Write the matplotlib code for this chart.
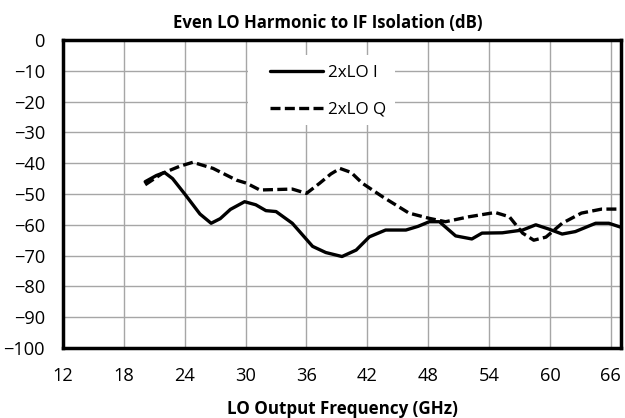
import matplotlib
matplotlib.use("Agg")
import matplotlib.pyplot as plt
from matplotlib.patches import Rectangle

plt.rcParams["font.family"] = ["Open Sans", "DejaVu Sans"]

# 2xLO I (solid)
freq_i = [20.1, 21.2, 22.0, 22.8, 24.0, 25.5, 26.6, 27.5, 28.5, 29.9, 31.0, 32.0, 33.0,
          34.6, 35.8, 36.6, 37.9, 39.5, 40.9, 42.2, 43.8, 45.8, 47.0, 48.1, 49.1, 50.7,
          52.3, 53.3, 55.3, 57.3, 58.6, 59.9, 61.2, 62.5, 64.5, 65.8, 67.0]
iso_i = [-46.0, -44.0, -43.0, -45.0, -50.0, -56.5, -59.5, -58.0, -55.0, -52.5, -53.5, -55.4, -55.7,
         -59.5, -64.0, -67.0, -69.0, -70.3, -68.2, -63.9, -61.7, -61.7, -60.5, -59.0, -59.0, -63.6,
         -64.6, -62.7, -62.6, -61.7, -60.0, -61.4, -63.0, -62.2, -59.5, -59.5, -60.8]

# 2xLO Q (dashed)
freq_q = [20.1, 21.8, 23.5, 24.8, 26.8, 29.1, 30.1, 31.4, 34.6, 36.0, 37.3, 38.4, 39.3,
          40.4, 41.5, 43.5, 46.1, 48.1, 49.7, 52.0, 54.6, 56.0, 57.3, 58.4, 59.6, 61.2,
          63.1, 65.1, 66.8]
iso_q = [-47.0, -43.3, -41.0, -39.7, -41.7, -45.5, -46.5, -48.7, -48.4, -49.8, -46.5, -43.5, -41.7,
         -43.0, -46.5, -50.9, -56.2, -57.9, -59.0, -57.4, -56.0, -57.4, -62.7, -65.0, -64.0, -59.5,
         -56.2, -54.9, -54.9]

xticks = [12, 18, 24, 30, 36, 42, 48, 54, 60, 66]
yticks = list(range(-100, 1, 10))

W, H = 625, 418
fig = plt.figure(figsize=(W / 100, H / 100), dpi=100)
ax = fig.add_axes([63 / W, 1 - 348 / H, 558 / W, 308 / H])
r = fig.canvas.get_renderer()


def fit(txt, target):
    # scale a text so it takes the same width in pixels as in the reference
    w = txt.get_window_extent(r).width
    txt.set_fontsize(txt.get_fontsize() * target / w)
    return txt.get_fontsize()


ax.plot(freq_i, iso_i, color="black", lw=2.4, solid_joinstyle="round",
        solid_capstyle="round", label="2xLO I", zorder=3)
ax.plot(freq_q, iso_q, color="black", lw=2.4, ls=(0, (3, 1.3)), label="2xLO Q", zorder=3)

ax.set_xlim(12, 67)
ax.set_ylim(-100, 0)
ax.set_xticks(xticks)
ax.set_yticks(yticks)
ax.grid(True, color="#a6a6a6", lw=1)
ax.set_axisbelow(True)
for s in ax.spines.values():
    s.set_linewidth(2.5)
    s.set_color("black")

probe = fig.text(0, 0, "-100", fontsize=11)
tick_fs = fit(probe, 37)
probe.remove()
ax.tick_params(length=0, labelsize=tick_fs)
ax.tick_params(axis="y", pad=13)
ax.tick_params(axis="x", pad=13.5)

title = fig.text(328 / W, 1 - 28 / H, "Even LO Harmonic to IF Isolation (dB)",
                 ha="center", va="baseline", fontsize=11, fontweight="bold")
fit(title, 310)
xlab = fig.text(342 / W, 1 - 414 / H, "LO Output Frequency (GHz)",
                ha="center", va="baseline", fontsize=11, fontweight="bold")
fit(xlab, 231)

# white legend box over the grid
ax.add_patch(Rectangle(((248 - 63) / 558, 1 - (125 - 40) / 308), 147 / 558, 70 / 308,
                       transform=ax.transAxes, facecolor="white", edgecolor="none", zorder=1))

probe = fig.text(0, 0, "2xLO I", fontsize=11)
leg_fs = fit(probe, 50)
probe.remove()
fpx = leg_fs * 100 / 72


def make_legend(spacing):
    return ax.legend(loc="center left", bbox_to_anchor=((270 - 63) / 558, 1 - (91.4 - 40) / 308),
                     frameon=False, fontsize=leg_fs, handlelength=53 / fpx,
                     handletextpad=5 / fpx, borderpad=0, borderaxespad=0,
                     labelspacing=spacing)


sp = 0.8
leg = make_legend(sp)
fig.canvas.draw()
ys = [t.get_window_extent(r).y0 for t in leg.get_texts()]
sp += (37 - abs(ys[0] - ys[1])) / fpx
leg.remove()
leg = make_legend(sp)

fig.savefig("out.png", dpi=100)
